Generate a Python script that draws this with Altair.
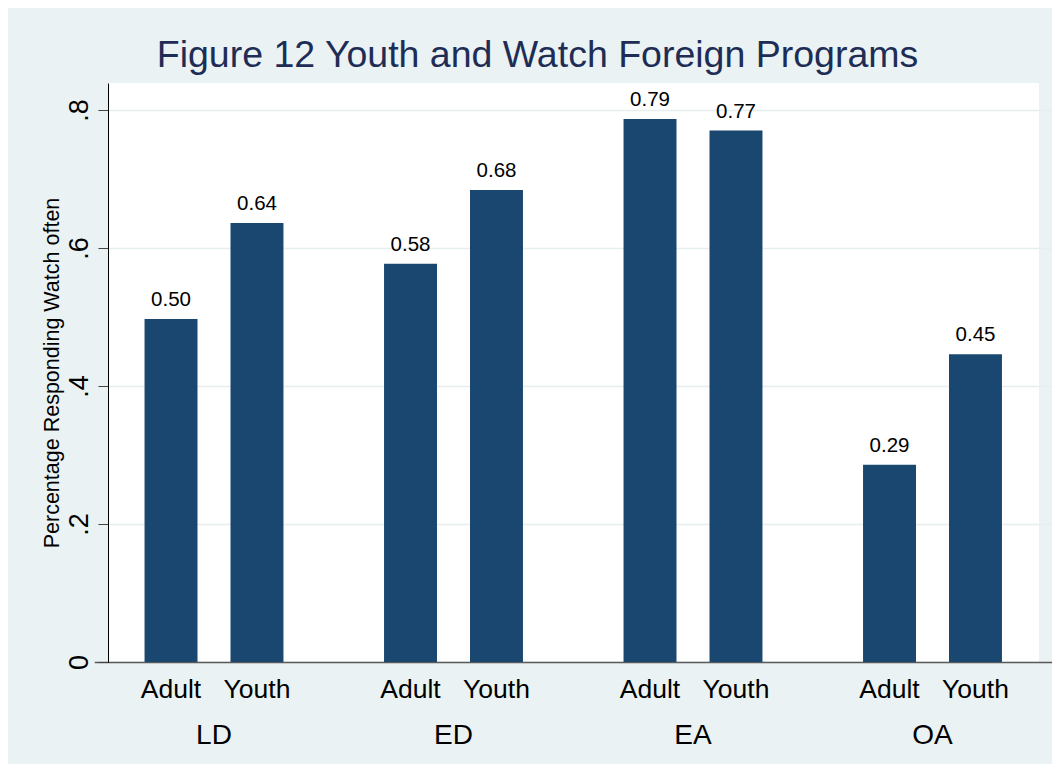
import altair as alt
import pandas as pd

groups = ["LD", "ED", "EA", "OA"]
types = ["Adult", "Youth"]
adult = [0.497, 0.577, 0.787, 0.286]
youth = [0.636, 0.684, 0.770, 0.446]
y_ticks = [0, 0.2, 0.4, 0.6, 0.8]

rows = []
for g, a, y in zip(groups, adult, youth):
    rows.append({"group": g, "type": "Adult", "value": a})
    rows.append({"group": g, "type": "Youth", "value": y})
df = pd.DataFrame(rows)

BG = "#EAF2F3"
BAR = "#1A476F"

xscale = alt.Scale(domain=groups, range=[-13.75, 944.25], paddingInner=0, paddingOuter=0)
xoff = alt.Scale(domain=types, paddingInner=0.384, paddingOuter=0.585)

base = alt.Chart(df)

bars = base.mark_bar(color=BAR).encode(
    x=alt.X("group:N", scale=xscale, sort=groups,
            axis=alt.Axis(title=None, labelAngle=0, labelFontSize=28, labelFont="Liberation Sans",
                          labelColor="black", labelBaseline="alphabetic", labelPadding=81,
                          ticks=False, tickSize=0, domainColor="#5a5a5a", domainWidth=1.5,
                          grid=False)),
    xOffset=alt.XOffset("type:N", scale=xoff, sort=types),
    y=alt.Y("value:Q", scale=alt.Scale(domain=[0, 0.839], nice=False, zero=True),
            axis=alt.Axis(title="Percentage Responding Watch often", values=y_ticks,
                          labelExpr="datum.value == 0 ? '0' : replace(format(datum.value, '.1f'), '0.', '.')",
                          labelAngle=270, labelAlign="center", labelBaseline="alphabetic",
                          labelFontSize=27, labelFont="Liberation Sans", labelColor="black",
                          labelPadding=11, tickSize=10, tickColor="#444444", tickWidth=1,
                          domainColor="black", domainWidth=1,
                          grid=True, gridColor="#E6EEF0", gridWidth=1.5,
                          titleFontSize=21.5, titleFont="Liberation Sans", titleFontWeight="normal",
                          titleColor="black", titleAngle=270, titleAlign="center",
                          titleBaseline="alphabetic", titleX=-50, titleY=289.5)),
)

values_text = base.mark_text(baseline="alphabetic", dy=-13, fontSize=20.5,
                             font="Liberation Sans", color="black").encode(
    x=alt.X("group:N", scale=xscale, sort=groups),
    xOffset=alt.XOffset("type:N", scale=xoff, sort=types),
    y=alt.Y("value:Q"),
    text=alt.Text("value:Q", format=".2f"),
)

type_text = base.mark_text(baseline="alphabetic", fontSize=26.5, font="Liberation Sans",
                           color="black").encode(
    x=alt.X("group:N", scale=xscale, sort=groups),
    xOffset=alt.XOffset("type:N", scale=xoff, sort=types),
    y=alt.value(615),
    text="type:N",
)

chart = alt.layer(bars, values_text, type_text).properties(
    width=931,
    height=579,
    padding={"left": 100, "top": 75, "right": 13, "bottom": 102},
    autosize=alt.AutoSizeParams(type="none"),
    background=BG,
    title=alt.TitleParams("Figure 12 Youth and Watch Foreign Programs", fontSize=37.5,
                          font="Liberation Sans", fontWeight="normal", color="#1E2D56",
                          anchor="middle", baseline="alphabetic", offset=16, dx=-36, dy=37),
).configure_view(fill="white", stroke=None)

chart.save("out.html", embed_options={"renderer": "svg", "actions": False})
